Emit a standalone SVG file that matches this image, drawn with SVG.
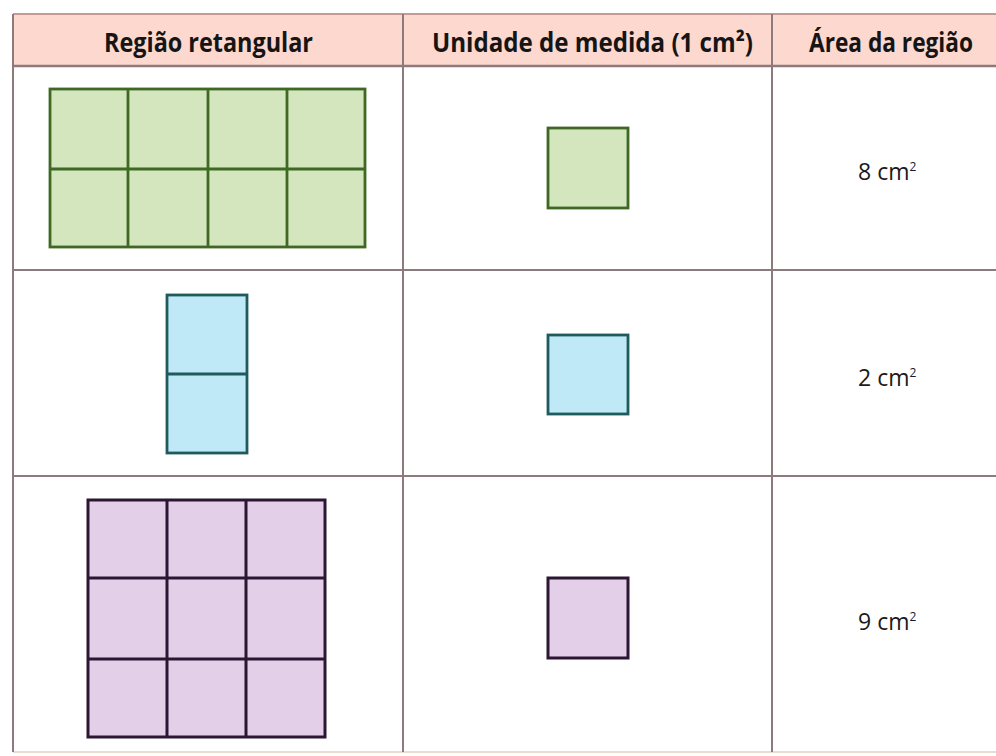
<svg xmlns="http://www.w3.org/2000/svg" width="996" height="756" viewBox="0 0 996 756">
<style>
.hd{font-family:"Open Sans","Noto Sans","Liberation Sans",sans-serif;font-weight:bold;font-size:26px;fill:#151515}
.val{font-family:"Open Sans","Noto Sans","Liberation Sans",sans-serif;font-size:23px;fill:#1a1a1a}
.sup{font-size:12px}
.tl{stroke:#8c7a7c;stroke-width:2;fill:none}
.g{fill:#d3e6bd;stroke:#3e6824;stroke-width:2.8}
.gl{stroke:#3e6824;stroke-width:2.8}
.b{fill:#bfe9f6;stroke:#1f5a5c;stroke-width:2.8}
.bl{stroke:#1f5a5c;stroke-width:2.8}
.p{fill:#e3d0e8;stroke:#2b1633;stroke-width:3}
.pl{stroke:#2b1633;stroke-width:3}
</style>
<rect x="0" y="0" width="996" height="756" fill="#ffffff"/>
<g id="table">
<rect x="13" y="14" width="990" height="52" fill="#fcd8ce"/>
<line class="tl" x1="13" y1="14" x2="996" y2="14" style="stroke:#c59a94"/>
<line class="tl" x1="13" y1="66" x2="996" y2="66" style="stroke-width:2.5"/>
<line class="tl" x1="13" y1="270" x2="996" y2="270"/>
<line class="tl" x1="13" y1="476" x2="996" y2="476"/>
<line class="tl" x1="13" y1="752" x2="996" y2="752" style="stroke:#e8ddd0"/>
<line class="tl" x1="13" y1="14" x2="13" y2="752"/>
<line class="tl" x1="403" y1="14" x2="403" y2="752"/>
<line class="tl" x1="772" y1="14" x2="772" y2="752"/>
</g>
<g id="header">
<text class="hd" x="104" y="52" textLength="209" lengthAdjust="spacingAndGlyphs">Região retangular</text>
<text class="hd" x="432" y="52" textLength="321" lengthAdjust="spacingAndGlyphs">Unidade de medida (1 cm²)</text>
<text class="hd" x="809" y="52" textLength="164" lengthAdjust="spacingAndGlyphs">Área da região</text>
</g>
<g id="green-region">
<rect class="g" x="50" y="89" width="315" height="158"/>
<line class="gl" x1="128" y1="89" x2="128" y2="247"/>
<line class="gl" x1="208" y1="89" x2="208" y2="247"/>
<line class="gl" x1="287" y1="89" x2="287" y2="247"/>
<line class="gl" x1="50" y1="169" x2="365" y2="169"/>
</g>
<g id="green-unit">
<rect class="g" x="548" y="128" width="80" height="80"/>
</g>
<g id="area-8">
<text class="val" x="858" y="180">8 cm<tspan class="sup" dy="-9">2</tspan></text>
</g>
<g id="blue-region">
<rect class="b" x="167" y="295" width="80" height="158"/>
<line class="bl" x1="167" y1="374" x2="247" y2="374"/>
</g>
<g id="blue-unit">
<rect class="b" x="548" y="335" width="80" height="79"/>
</g>
<g id="area-2">
<text class="val" x="858" y="386">2 cm<tspan class="sup" dy="-9">2</tspan></text>
</g>
<g id="purple-region">
<rect class="p" x="88" y="500" width="237" height="237"/>
<line class="pl" x1="167" y1="500" x2="167" y2="737"/>
<line class="pl" x1="246" y1="500" x2="246" y2="737"/>
<line class="pl" x1="88" y1="578" x2="325" y2="578"/>
<line class="pl" x1="88" y1="659" x2="325" y2="659"/>
</g>
<g id="purple-unit">
<rect class="p" x="548" y="578" width="80" height="80"/>
</g>
<g id="area-9">
<text class="val" x="858" y="630">9 cm<tspan class="sup" dy="-9">2</tspan></text>
</g>
</svg>
